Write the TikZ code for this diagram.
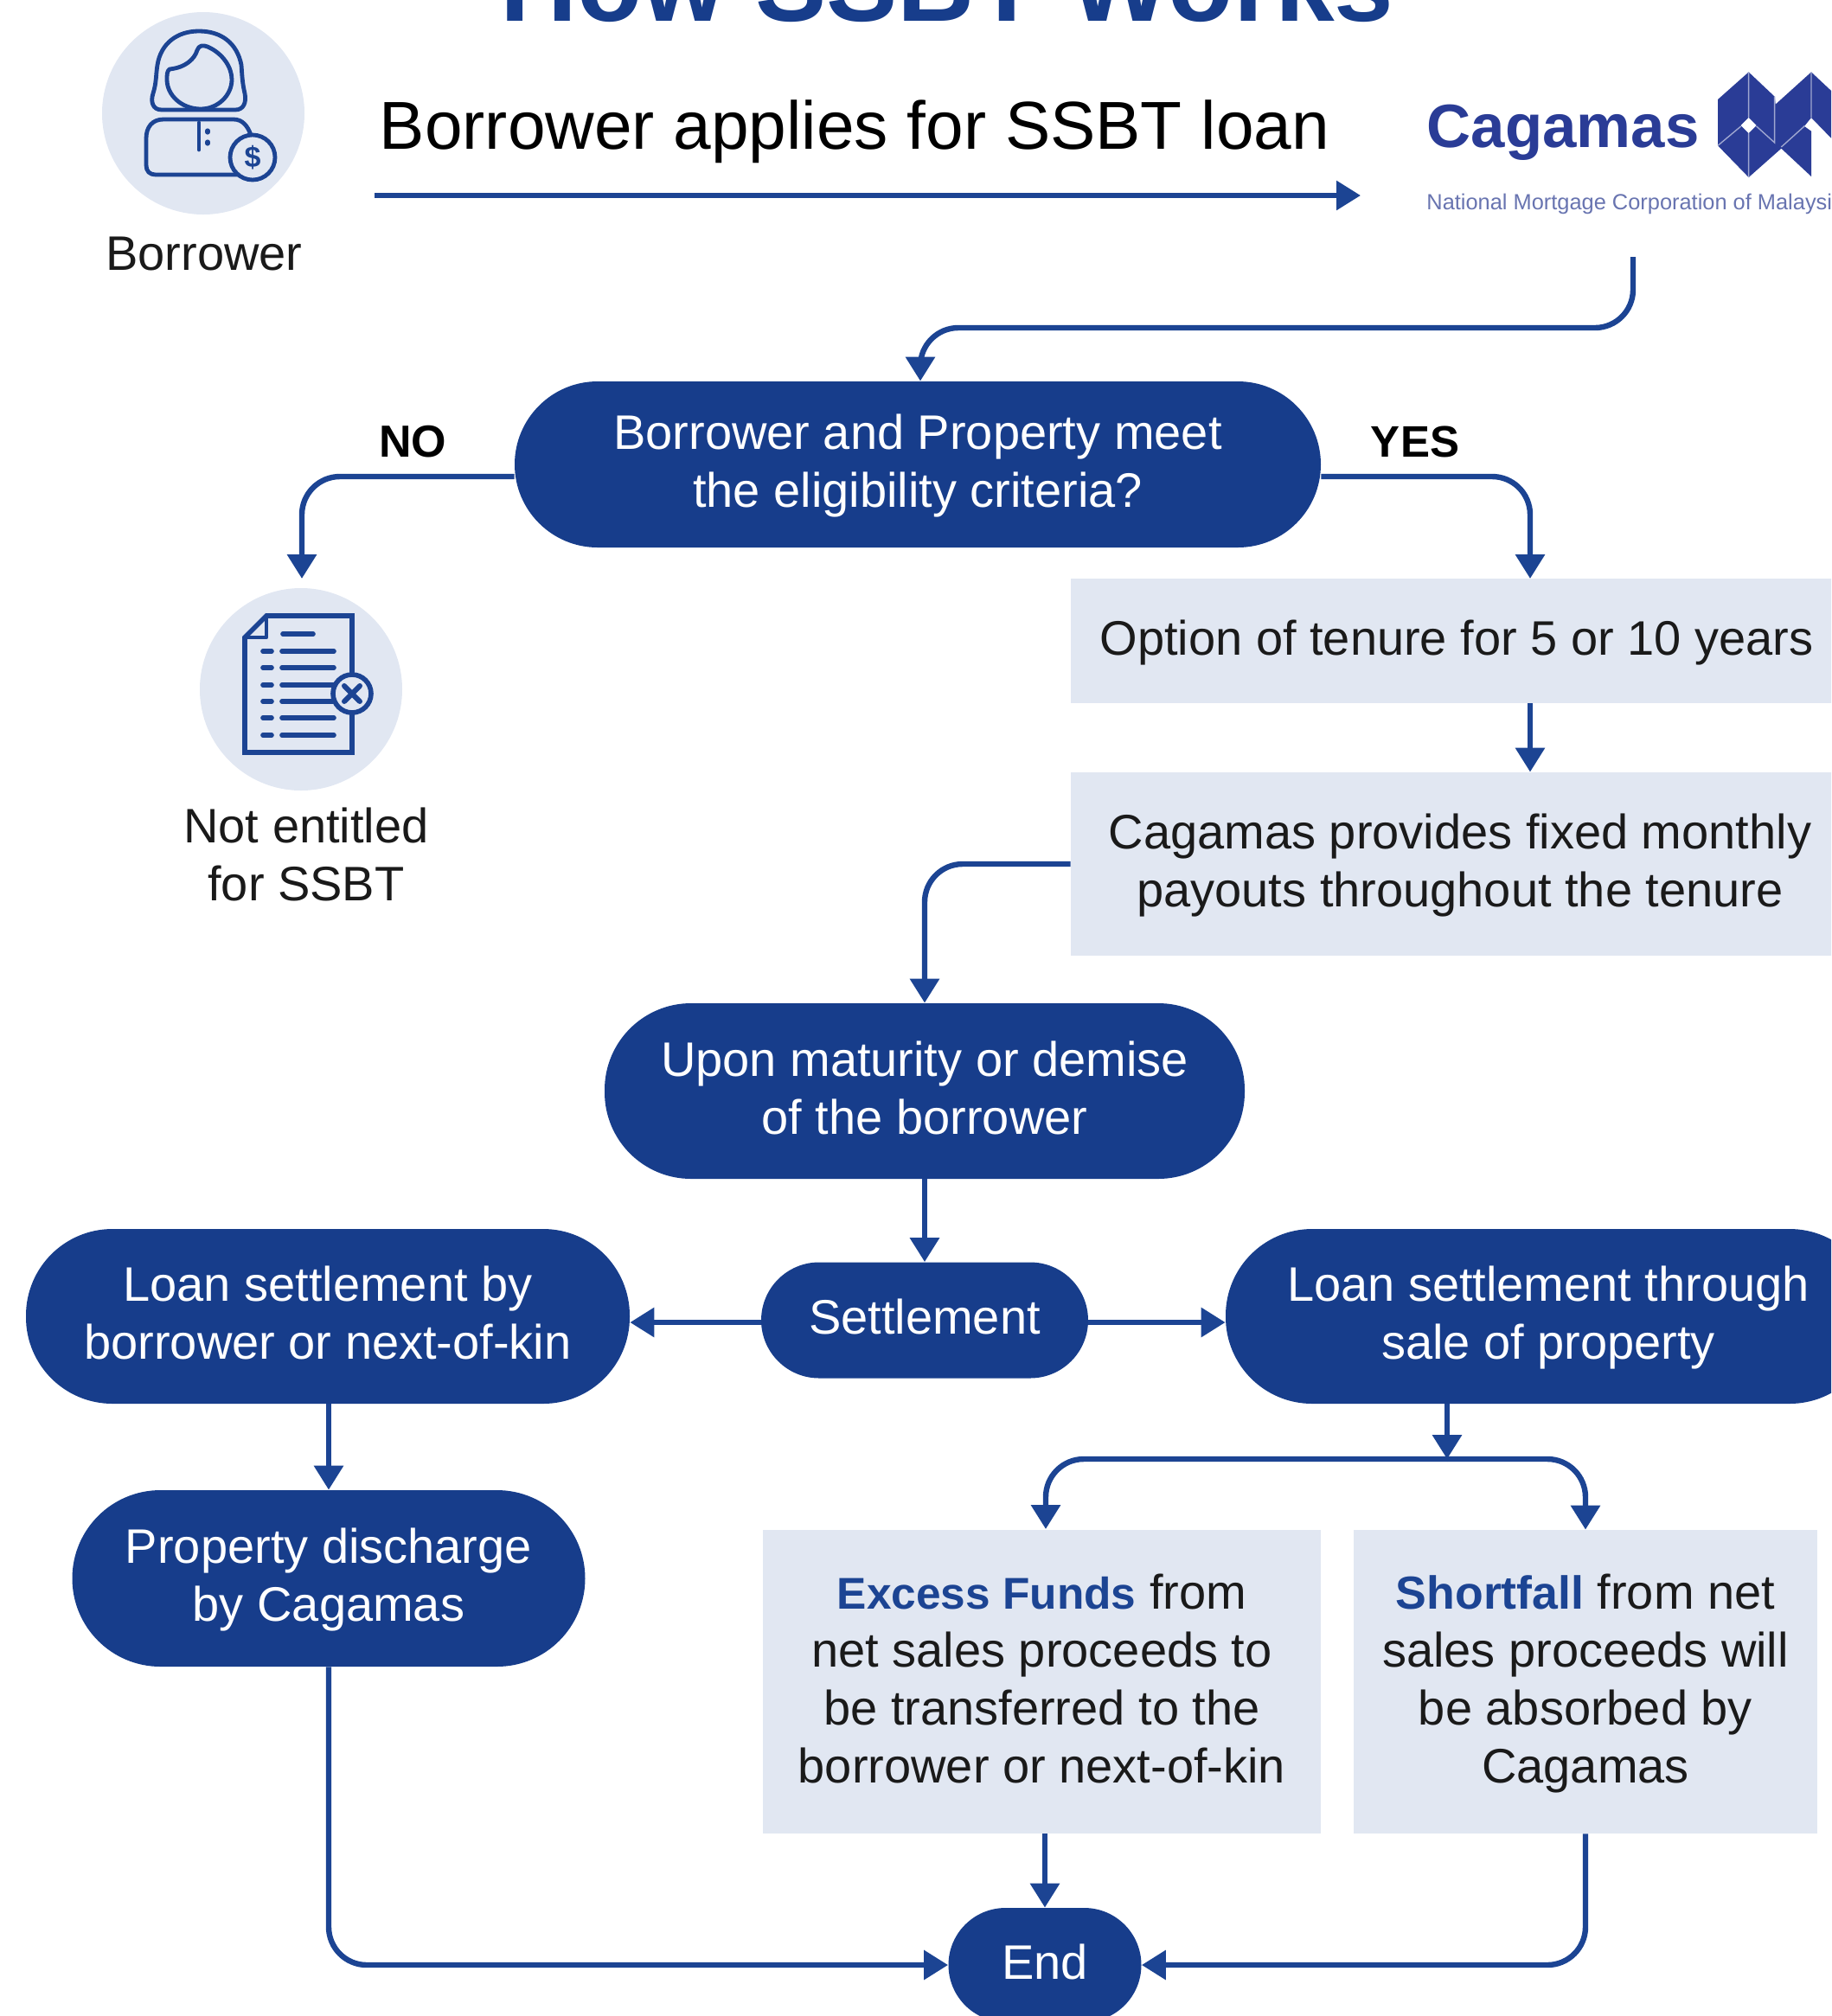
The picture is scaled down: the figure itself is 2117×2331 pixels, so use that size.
\documentclass[tikz,border=0pt]{standalone}
\usepackage{fontspec}
\setmainfont{Liberation Sans}
\usetikzlibrary{arrows.meta,calc}
\definecolor{navy}{HTML}{173D8B}
\definecolor{linec}{HTML}{1C4493}
\definecolor{pale}{HTML}{E1E7F2}
\definecolor{logoc}{HTML}{2A3C96}
\definecolor{tagc}{HTML}{6874B0}
\definecolor{ink}{HTML}{1A1A1A}
\newcommand{\bodyfont}{\fontsize{28}{33.5}\selectfont}
\newcommand{\ls}{\rule[-0.26\baselineskip]{0pt}{\baselineskip}}
\tikzset{
  pill/.style={rectangle,rounded corners=#1,fill=navy,text=white,inner sep=0pt,align=center,font=\bodyfont},
  panel/.style={rectangle,fill=pale,text=ink,inner sep=0pt,align=center,font=\bodyfont},
  label/.style={text=ink,inner sep=0pt,align=center,font=\bodyfont},
  conn/.style={draw=linec,line width=3.2pt,rounded corners=22pt,-{Triangle[length=14pt,width=16.5pt]}},
  icon/.style={draw=linec,line width=2.4pt,line join=round,line cap=round},
  bgdisc/.style={circle,fill=pale,inner sep=0pt,minimum size=117pt}
}
\begin{document}
\begin{tikzpicture}[x=0.5pt,y=-0.5pt]
\useasboundingbox (0,0) rectangle (2117,2331);
\clip (0,0) rectangle (2117,2331);

% title
\node (title) [anchor=base,inner sep=0pt,text=navy,font=\fontsize{61.7}{70}\selectfont\bfseries] at (1095,24) {How SSBT Works};

% borrower
\node (bdisc) [bgdisc] at (235,131) {};
\draw[icon] (187,127) .. controls (176,127) and (174,117) .. (177,108) .. controls (181,95) and (180,88) .. (182,75) .. controls (186,50) and (205,36) .. (230,36) .. controls (256,36) and (274,50) .. (279,75) .. controls (280,88) and (280,95) .. (283,108) .. controls (285,118) and (282,127) .. (272,127) -- cycle;
\draw[icon] (196,80) .. controls (215,78) and (225,68) .. (228,58) .. controls (230,52) and (235,52) .. (240,54) .. controls (258,62) and (268,78) .. (268,92) .. controls (268,110) and (252,126) .. (232,126) .. controls (210,126) and (193,110) .. (193,92) .. controls (193,87) and (193,82) .. (196,80) -- cycle;
\draw[icon] (275,202) -- (180,202) .. controls (173,202) and (169,198) .. (169,191) -- (169,160) .. controls (169,147) and (176,138) .. (189,138) -- (270,138) .. controls (280,138) and (286,145) .. (290,156);
\draw[icon] (230,142) -- (230,173);
\draw[icon,line width=2.6pt] (240,151) -- (240,153) (240,164) -- (240,166);
\draw[icon,fill=pale] (292,182) circle (26);
\node (dollar) [inner sep=0pt,text=linec,font=\fontsize{17}{17}\selectfont\bfseries] at (292,182) {\$};
\node (blabel) [label,anchor=base] at (236,312) {Borrower};

% headline
\node (apply) [anchor=base,inner sep=0pt,text=black,font=\fontsize{39.2}{45}\selectfont] at (988,172) {Borrower applies for SSBT loan};
\coordinate (applystart) at (433,226);
\coordinate (applyend) at (1573,226);
\draw[conn,line width=3pt] (applystart) -- (applyend);

% logo
\node (cagamas) [anchor=base,inner sep=0pt,text=logoc,font=\fontsize{35.4}{40}\selectfont\bfseries] at (1807,170) {Cagamas};
\node (tag) [anchor=base west,inner sep=0pt,text=tagc,font=\fontsize{12.7}{15}\selectfont] at (1649,242) {National Mortgage Corporation of Malaysia};
\begin{scope}[shift={(1970,70)},x=0.16667pt,y=-0.16667pt]
  \fill[logoc] (155,40) -- (245,125) -- (248,152) -- (372,40) -- (500,160) -- (500,330) -- (372,198) -- (348,228) -- (372,245) -- (372,402) -- (268,305) -- (155,405) -- (48,295) -- (48,135) -- cycle;
  \fill[white] (155,198) -- (182,225) -- (155,252) -- (128,225) -- cycle;
  \draw[white!55!logoc,line width=0.7pt] (155,40) -- (155,198) (155,252) -- (155,405) (245,125) -- (245,285) -- (182,228) (48,295) -- (128,228) (268,300) -- (350,226) (372,40) -- (372,198);
\end{scope}

% cagamas to decision
\node (dec) [pill=48pt,minimum width=466pt,minimum height=96pt] at (1061,537) {\ls Borrower and Property meet\\\ls the eligibility criteria?};
\coordinate (logoout) at (1888,297);
\coordinate (turna) at (1400,379);
\coordinate (decin) at (1064,441);
\draw[conn] (logoout) -- (logoout |- turna) -- (decin |- turna) -- (decin |- dec.north);

% decision branches
\coordinate (decrow) at (1062,551);
\coordinate (noend) at (349,669);
\coordinate (yesend) at (1769,669);
\draw[conn] (dec.west |- decrow) -| (noend);
\draw[conn] (dec.east |- decrow) -| (yesend);
\node (no) [anchor=base,inner sep=0pt,text=black,font=\fontsize{26}{30}\selectfont\bfseries] at (477,528) {NO};
\node (yes) [anchor=base,inner sep=0pt,text=black,font=\fontsize{25.5}{30}\selectfont\bfseries] at (1636,528) {YES};

% not entitled
\node (ndisc) [bgdisc] at (348,797) {};
\draw[icon,line width=2.8pt,line cap=butt,line join=miter] (308,712) -- (407,712) -- (407,870) -- (283,870) -- (283,737) -- cycle;
\draw[icon,line width=2.2pt] (308,712) -- (308,737) -- (283,737);
\draw[icon,line width=2.8pt] (327,733) -- (362,733);
\foreach \rowy in {753,772,792,811,830,850} {
  \draw[icon,line width=2.8pt] (304,\rowy) -- (314,\rowy) (326,\rowy) -- (386,\rowy);
}
\draw[icon,line width=2.8pt,fill=pale] (407,802) circle (22);
\draw[icon,line width=3pt] (398,793) -- (416,811) (416,793) -- (398,811);
\node (nlabel) [label] at (354,992) {\ls Not entitled\\\ls for SSBT};

% right-hand panels
\node (opt) [panel,minimum width=446pt,minimum height=72pt] at (1684,741) {\ls Option of tenure for 5 or 10 years};
\node (pay) [panel,minimum width=450pt,minimum height=106pt] at (1688,999) {\ls Cagamas provides fixed monthly\\\ls payouts throughout the tenure};
\draw[conn] (opt.south -| yesend) -- (pay.north -| yesend);

% centre column
\node (upon) [pill=50pt,minimum width=370pt,minimum height=101.5pt] at (1069,1261.5) {\ls Upon maturity or demise\\\ls of the borrower};
\draw[conn] (pay.west) -| (upon.north);
\node (settle) [pill=33.5pt,minimum width=189pt,minimum height=67pt] at (1069,1526.5) {\ls Settlement};
\draw[conn] (upon.south) -- (settle.north);
\node (lefts) [pill=50pt,minimum width=349pt,minimum height=101pt] at (379,1522) {\ls Loan settlement by\\\ls borrower or next-of-kin};
\node (rights) [pill=50pt,minimum width=376pt,minimum height=101pt] at (1793,1522) {\ls Loan settlement through\hspace*{3pt}\\\ls sale of property\hspace*{3pt}};
\coordinate (setrow) at (1069,1529);
\draw[conn] (settle.west |- setrow) -- (lefts.east |- setrow);
\draw[conn] (settle.east |- setrow) -- (rights.west |- setrow);

% left column
\node (prop) [pill=51pt,minimum width=296.5pt,minimum height=102pt] at (380,1825) {\ls Property discharge\\\ls by Cagamas};
\draw[conn] (prop.north |- lefts.south) -- (prop.north);

% outcome panels
\node (excess) [panel,minimum width=322.5pt,minimum height=175.5pt] at (1204.5,1944.5) {\ls{\fontsize{25.7}{33.5}\selectfont\color{linec}\bfseries Excess Funds} from\\\ls net sales proceeds to\\\ls be transferred to the\\\ls borrower or next-of-kin};
\node (short) [panel,minimum width=268pt,minimum height=175.5pt] at (1833,1944.5) {\ls{\fontsize{26.8}{33.5}\selectfont\color{linec}\bfseries Shortfall} from net\\\ls sales proceeds will\\\ls be absorbed by\\\ls Cagamas};
\coordinate (branch) at (1673,1687);
\coordinate (exdrop) at (1209,1768);
\draw[conn] (branch |- rights.south) -- (branch);
\draw[conn] (branch) -| (exdrop);
\draw[conn] (branch) -| (short.north);

% end
\node (endn) [pill=33pt,minimum width=111.5pt,minimum height=66pt] at (1208,2272) {\ls End};
\draw[conn] (endn.north |- excess.south) -- (endn.north);
\draw[conn] (prop.south) |- (endn.west);
\draw[conn] (short.south) |- (endn.east);
\end{tikzpicture}
\end{document}
